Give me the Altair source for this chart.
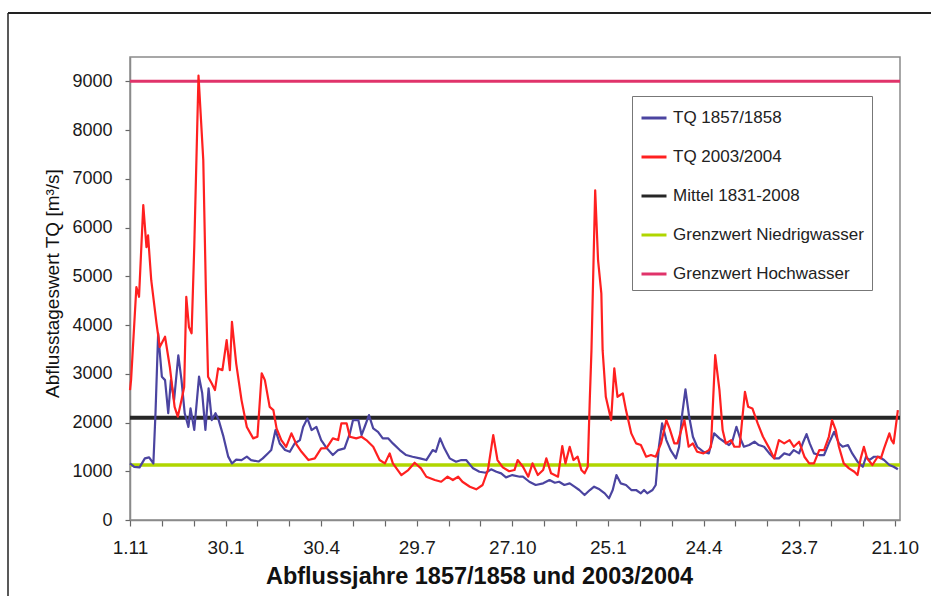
import altair as alt
import pandas as pd

# ---------------- data ----------------
x_tick_labels = ["1.11", "30.1", "30.4", "29.7", "27.10", "25.1", "24.4", "23.7", "21.10"]
x_tick_step = 90
x_end = 725

series_names = ["TQ 1857/1858", "TQ 2003/2004", "Mittel 1831-2008",
                "Grenzwert Niedrigwasser", "Grenzwert Hochwasser"]
series_colors = ["#4b44a0", "#ff2020", "#262626", "#b0d600", "#e0336a"]

mittel = 2100
niedrigwasser = 1130
hochwasser = 9000

blue_days = [0, 4, 9, 14, 18, 22, 24, 26.5, 30, 33, 36, 38.5, 41.5, 45.5, 48.5, 51.5, 55, 57, 60.5, 65,
             68, 71, 74, 77, 80.5, 83.5, 88, 92.5, 96, 100, 105, 110, 114, 121, 125, 130, 133, 137, 141, 146,
             150.5, 155, 160, 163, 167, 171, 175.5, 180, 185, 191, 196, 202, 207, 210, 215, 218, 221, 225, 229, 233.5,
             238, 243, 247.5, 254, 260, 266, 273, 279, 285, 288, 292, 296, 301, 307, 312, 316.5, 323, 329, 335, 340,
             345, 349.5, 354, 360, 367, 370, 376, 382, 389, 395, 400, 404, 409, 414, 418.5, 423, 428, 433, 437, 442,
             447, 451, 454.5, 458, 462, 467, 472, 476.5, 481, 484, 487, 492, 495, 498, 501, 505, 509, 514, 517, 520,
             523, 526.5, 530, 534, 540, 545, 547, 550, 555, 559.5, 564, 567, 571, 574, 578, 583, 588, 592, 597, 602,
             606.5, 611, 616, 621, 625, 630, 634, 637, 640, 644, 649, 653.5, 658, 663, 667.5, 671, 676, 680, 685, 690,
             693, 696, 700.5, 705, 710, 715, 719, 723]
blue_vals = [1160, 1090, 1080, 1265, 1285, 1160, 2190, 3830, 2940, 2870, 2190, 2870, 2460, 3380, 2870, 2190, 1910, 2290, 1850, 2940,
             2600, 1850, 2700, 2050, 2190, 2050, 1710, 1300, 1160, 1240, 1230, 1300, 1230, 1200, 1265, 1370, 1435, 1845, 1570, 1435,
             1400, 1570, 1640, 1910, 2085, 1845, 1910, 1640, 1480, 1333, 1435, 1470, 1777, 2050, 2050, 1743, 1913, 2152, 1880, 1810,
             1675, 1675, 1572, 1435, 1333, 1298, 1265, 1230, 1435, 1400, 1675, 1470, 1265, 1196, 1230, 1230, 1060, 990, 970, 1040,
             990, 957, 875, 922, 888, 888, 785, 718, 752, 820, 765, 785, 718, 752, 683, 615, 513, 615, 683, 629,
             547, 444, 615, 922, 752, 718, 615, 615, 547, 615, 547, 615, 718, 1503, 1982, 1640, 1435, 1265, 1503, 2187,
             2680, 2118, 1708, 1503, 1400, 1367, 1538, 1777, 1675, 1606, 1538, 1606, 1913, 1708, 1503, 1538, 1606, 1538, 1503, 1367,
             1265, 1265, 1367, 1333, 1435, 1367, 1606, 1763, 1572, 1367, 1333, 1333, 1572, 1810, 1572, 1503, 1538, 1367, 1196, 1093,
             1298, 1230, 1298, 1298, 1230, 1128, 1093, 1040]

red_days = [0, 1, 6, 8.5, 12.5, 15.5, 17, 20, 25, 28, 33, 37.5, 42, 45, 48.5, 51, 53, 55.5, 58, 60.5,
            64.5, 69, 71.5, 73.5, 77, 80, 83, 87, 91, 94, 96, 100, 105, 110, 116, 120, 124, 127, 131.5, 135,
            138, 142.5, 147, 152, 157, 161.5, 168, 174, 180, 185, 191, 196, 199, 204, 207, 213, 218, 222.5, 229, 235,
            240, 244.5, 247.5, 255.5, 262, 268, 274, 279, 287, 293, 299, 304, 309, 313, 320, 326, 332, 337, 342, 346,
            351, 357, 362, 365, 370, 375, 379, 384, 389, 392, 396.5, 403, 407, 410, 414, 417.5, 421.5, 425, 428, 431,
            433, 434.5, 438, 440.7, 443.8, 445, 448, 453, 456, 459, 464, 467, 472, 476.5, 481, 486, 490.5, 495, 500, 505,
            508, 512.5, 515.5, 519, 522, 526, 530, 534, 540, 545, 547, 551, 555, 558, 561, 566, 569, 574, 577, 579,
            582, 586, 591, 596, 602, 606.5, 611, 616, 621, 625, 630, 635, 639.5, 644, 649, 653.5, 658, 661, 664.5, 667.5,
            672, 677, 682, 685, 688, 691, 694, 699, 704, 707, 710, 715, 717, 719, 723]
red_vals = [2665, 2870, 4780, 4580, 6460, 5600, 5840, 4920, 4030, 3550, 3760, 3140, 2320, 2120, 2460, 2730, 4580, 3960, 3830, 5600,
            9120, 7380, 4650, 2940, 2800, 2665, 3110, 3075, 3690, 3075, 4065, 3210, 2460, 1910, 1675, 1710, 3010, 2870, 2320, 2255,
            1880, 1640, 1500, 1777, 1540, 1400, 1230, 1265, 1470, 1476, 1675, 1640, 1982, 1982, 1708, 1675, 1708, 1640, 1503, 1230,
            1162, 1367, 1162, 922, 1025, 1175, 1060, 888, 820, 785, 888, 820, 888, 785, 683, 629, 718, 1025, 1743, 1230,
            1080, 1000, 1025, 1230, 1093, 888, 1162, 922, 1025, 1265, 957, 888, 1517, 1162, 1503, 1230, 1298, 1025, 957, 1093,
            2528, 3485, 6765, 5330, 4650, 3485, 2528, 2050, 3110, 2528, 2597, 2255, 1777, 1572, 1538, 1298, 1333, 1298, 1572, 2050,
            1880, 1572, 1572, 1845, 2050, 1503, 1572, 1400, 1367, 1435, 1503, 3383, 2665, 1845, 1572, 1640, 1503, 1503, 2187, 2630,
            2323, 2289, 1982, 1708, 1470, 1265, 1640, 1572, 1640, 1503, 1606, 1298, 1162, 1162, 1435, 1435, 1708, 2050, 1845, 1503,
            1162, 1060, 990, 922, 1265, 1503, 1265, 1128, 1298, 1265, 1470, 1777, 1640, 1572, 2255]

# ---------------- tables ----------------
df_blue = pd.DataFrame({"day": blue_days, "q": blue_vals, "serie": series_names[0]})
df_red = pd.DataFrame({"day": red_days, "q": red_vals, "serie": series_names[1]})
df_ref = pd.DataFrame({
    "day": [0, x_end] * 3,
    "q": [mittel, mittel, niedrigwasser, niedrigwasser, hochwasser, hochwasser],
    "serie": [series_names[2]] * 2 + [series_names[3]] * 2 + [series_names[4]] * 2,
    "w": [4, 4, 3.5, 3.5, 3, 3],
})

label_array = "[" + ",".join("'%s'" % s for s in x_tick_labels) + "]"
label_expr = "datum.value %% %d == 0 ? %s[datum.value / %d] : ''" % (x_tick_step, label_array, x_tick_step)

FONT = "Liberation Sans, Arial, sans-serif"

x_enc = alt.X(
    "day:Q",
    scale=alt.Scale(domain=[0, x_end], nice=False, zero=False),
    axis=alt.Axis(
        values=list(range(0, x_tick_step * (len(x_tick_labels) - 1) + 1, 30)),
        labelExpr=label_expr,
        title="Abflussjahre 1857/1858 und 2003/2004",
        grid=False, tickSize=6, labelPadding=12,
        labelFont=FONT, labelFontSize=19, labelFlush=False,
        titleFont=FONT, titleFontSize=23.5, titleFontWeight="bold",
        titleX=349, titleY=63, titleBaseline="alphabetic", titleAlign="center",
    ),
)
y_enc = alt.Y(
    "q:Q",
    scale=alt.Scale(domain=[0, 9500], nice=False),
    axis=alt.Axis(
        values=list(range(0, 9001, 1000)), format="d",
        title="Abflusstageswert TQ [m³/s]",
        grid=False, tickSize=5, labelPadding=13,
        labelFont=FONT, labelFontSize=18,
        titleFont=FONT, titleFontSize=19, titleFontWeight="normal",
        titleX=-78, titleY=226, titleBaseline="middle", titleAlign="center",
    ),
)
color_enc = alt.Color(
    "serie:N",
    scale=alt.Scale(domain=series_names, range=series_colors),
    sort=series_names,
    legend=alt.Legend(
        title=None, orient="none", legendX=502, legendY=39,
        symbolType="stroke", symbolStrokeWidth=3, symbolSize=625,
        labelFont=FONT, labelFontSize=17, labelColor="#222", labelLimit=0,
        labelOffset=5, rowPadding=17, padding=8,
        fillColor="white", strokeColor="#777",
    ),
)

ref_layer = alt.Chart(df_ref).mark_line().encode(
    x=x_enc, y=y_enc, color=color_enc, detail="serie:N",
    strokeWidth=alt.StrokeWidth("w:Q", scale=None, legend=None),
)
blue_layer = alt.Chart(df_blue).mark_line(strokeWidth=2.2, strokeJoin="round").encode(x=x_enc, y=y_enc, color=color_enc)
red_layer = alt.Chart(df_red).mark_line(strokeWidth=2.2, strokeJoin="round").encode(x=x_enc, y=y_enc, color=color_enc)

frame_df = pd.DataFrame({"k": [0]})
top_rule = alt.Chart(frame_df).mark_rule(color="#222", strokeWidth=2).encode(
    x=alt.value(-122), x2=alt.value(801), y=alt.value(-44))
left_rule = alt.Chart(frame_df).mark_rule(color="#222", strokeWidth=1.5).encode(
    x=alt.value(-122), y=alt.value(-44), y2=alt.value(539))

chart = alt.layer(ref_layer, blue_layer, red_layer, top_rule, left_rule).properties(
    width=770, height=463,
    autosize=alt.AutoSizeParams(type="none"),
    padding={"left": 130, "top": 57, "right": 31, "bottom": 76},
    background="white",
).configure_view(
    stroke="#8a8a8a", strokeWidth=1.5,
).configure_axis(
    domainColor="#8a8a8a", domainWidth=1.5, tickColor="#666", tickWidth=1.2,
    labelColor="#1a1a1a", titleColor="#111",
)

chart.save("out.html", embed_options={"renderer": "svg", "actions": False})
